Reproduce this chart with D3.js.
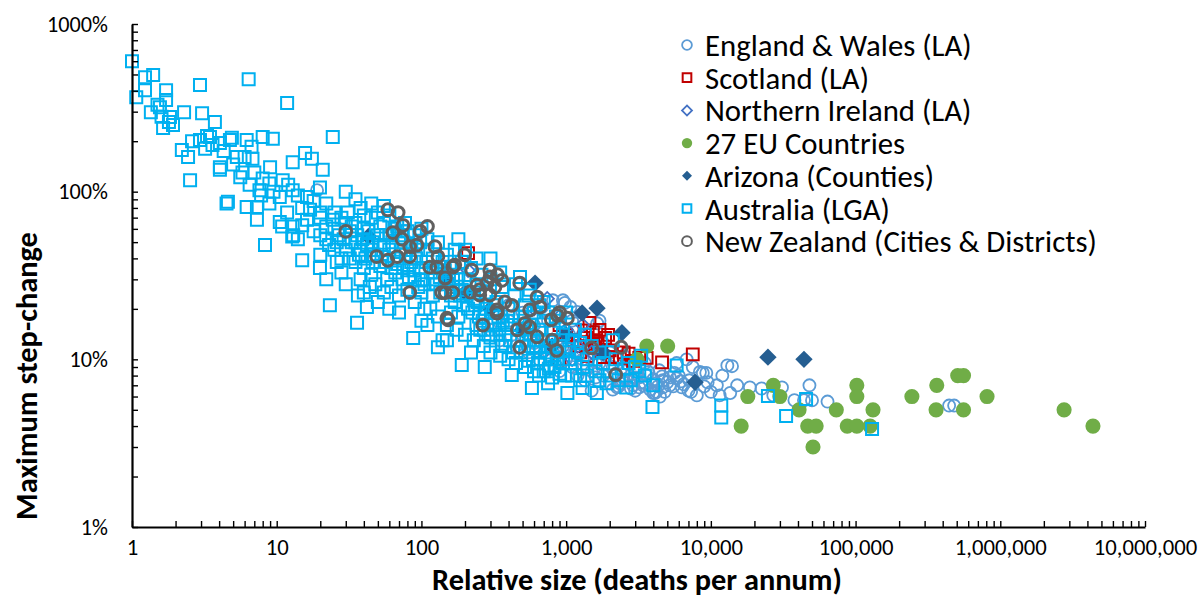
<!DOCTYPE html>
<html>
<head>
<meta charset="utf-8">
<script src="https://cdn.jsdelivr.net/npm/d3@7"></script>
<style>
  body { margin: 0; background: #fff; }
  text { font-family: Carlito, Calibri, Lato, sans-serif; }
</style>
</head>
<body>
<script>
// tick values
const xTicks = [1, 10, 100, 1000, 10000, 100000, 1000000, 10000000]
const yTicks = [1, 10, 100, 1000]

// series: [relative size (deaths per annum), max step-change in %]
const englandWales = [
  [19,102],[14000,9.1],[11000,7.0],[11500,6.1],[15200,7.0],[18600,6.8],[22400,6.7],[31000,6.8],[37800,5.7],
  [48000,7.0],[50000,5.7],[64000,5.6],[44000,5.7],[27000,6.1],[8000,6.1],[7500,9.0],[8400,8.4],[8800,8.3],
  [443000,5.3],[480000,5.3],[3000,7.8],[3400,7.0],[4100,6.3],[4650,6.8],[5800,7.7],[7100,7.5],[13000,9.2],
  [13600,6.3],[2250,6.8],[2450,7.5],[980,21.7],[810,22.5],[1190,19.2],[1640,16.4],[950,22.5],[1070,20.5],
  [680,20.5],[2100,6.6],[2350,7.2],[2900,7.5],[3200,6.8],[4200,6.4],[4650,7.5],[5200,7.8],[6300,6.8],
  [4450,6.0],[4000,6.3],[7300,6.4],[5800,9.5],[9300,8.3],[6800,10],[1700,17],[300,15],[350,13],[400,17],
  [450,12],[500,14],[550,11],[600,16],[650,10],[700,13],[750,9],[800,15],[850,11],[900,8.5],[950,12],
  [1000,10],[1050,14],[1100,9],[1150,11],[1200,8],[1250,12],[1300,10],[1350,7.5],[1400,9],[1450,13],
  [1500,8.5],[1550,11],[1600,7.8],[1700,9.5],[1800,8],[1900,10.5],[2000,7.2],[2100,9],[2200,8.2],
  [2300,6.9],[2400,8.8],[2600,7.6],[2700,9.3],[2800,6.7],[3100,8.4],[3300,7.3],[3600,8],[3800,6.6],
  [4200,7.2],[4400,8.6],[4800,6.4],[5000,7.3],[5500,6.9],[6000,8],[6500,7.1],[7000,6.5],[9500,7.3],
  [10000,6.4],[12000,8],[9000,6.9],[500,19],[1300,14],[1800,12.5],[2500,10.5],[3500,9.5],[600,12.5],
  [1100,17],[750,17],[400,21],[1000,11.8],[1600,9.6],[2000,11],[3000,6.5],[1500,6.5],[2600,8.5],
  [2900,7],[3200,7.8],[3500,7.2],[3700,8.4],[4000,7.6],[4300,6.9],[4600,7.9],[5200,7],[5600,8.3],[6200,7.4]
]

const scotland = [
  [210,43],[1340,14.9],[1380,13.4],[1450,16.5],[1530,14.5],[1580,11.8],[1800,10.3],[1860,13.4],[1950,14],
  [2000,11.3],[2080,10.3],[2200,10.3],[2350,10.2],[3200,10.2],[3600,10.2],[4600,9.6],[7500,10.7],[1200,12],
  [1100,13],[1250,11],[1650,12.5],[1700,15],[2500,11],[2700,10.8],[1000,14],[900,16],[1400,10.5],
  [1600,13],[2900,9.8],[1750,11],[900,10]
]

const northernIreland = [
  [740,23],[210,34],[1000,15],[1200,12],[900,18],[1500,11],[600,20],[1100,10],[800,13],[1300,16],[700,11]
]

const euCountries = [
  [3090,10],[3610,12],[5030,12],[16200,4],[18000,6],[27000,7],[30000,6],[40700,5],[46700,4],[53400,4],
  [50800,3],[73600,5],[87600,4],[102000,7],[102000,6],[102000,4],[126000,4],[132000,5],[245000,6],
  [364000,7],[360000,5],[508000,8],[557000,8],[557000,5],[810000,6],[2760000,5],[4370000,4]
]

const arizona = [
  [610,28.5],[1635,20.2],[1290,18.9],[2430,14.4],[7780,7.3],[24800,10.3],[44000,10.0],
  [43,54],[150,30],[300,20],[500,15],[800,12],[1000,14],[200,25],[1800,11]
]

const australia = [
  [1,600],[1.07,366],[1.23,482],[1.4,496],[1.23,403],[1.72,403],[1.72,352],[1.35,298],[1.56,319],
  [1.64,240],[1.92,250],[1.83,279],[2.29,298],[2.95,432],[6.4,469],[11.8,338],[3.05,294],[3.74,260],
  [2.21,177],[2.44,161],[2.95,203],[3.46,212],[4.05,195],[4.75,203],[6.2,203],[8.0,212],[9.4,207],
  [6.7,185],[5.3,161],[6.0,161],[6.8,157],[4.05,140],[4.05,135],[2.52,117],[4.5,85],[6.2,81],[7.3,68],
  [7.6,102],[8.9,112],[5.6,122],[12.9,150],[15.7,170],[20.8,135],[24.4,212],[17.5,157],[11,117],
  [12.9,102],[16.2,93],[19.9,106],[10.5,93],[8.9,85],[11.8,75],[12.9,62],[16.2,68],[19.9,75],[22,62],
  [24.4,68],[10.5,66],[7.3,81],[8.3,48],[4.6,87],[1.5,330],[1.6,280],[1.8,260],[2.6,200],[3.2,180],
  [3.6,190],[4.3,175],[5,145],[5.8,130],[7,130],[9,140],[8,120],[9.5,100],[3.3,215],[4.9,210],[6.5,110],
  [7.8,95],
  [12,110],[14,95],[15,80],[17,78],[18,88],[20,70],[22,85],[25,75],[25,60],[28,70],[30,65],[32,58],
  [27,55],[22,52],[18,58],[15,63],[14,52],[13,55],[10.9,62],[12.8,54],[15,39],[19.9,35],[23.3,21],
  [35.9,16.5],[42,20.5],[36.4,24],[30,100],[35,90],[38,80],[40,72],[45,70],[50,75],[55,65],[60,72],
  [65,60],[70,55],[75,50],[80,58],[90,55],[100,60],[110,52],[33,50],[38,45],[42,48],[47,42],[50,55],
  [55,48],[60,45],[65,40],[72,45],[78,42],[85,38],[95,45],[30,45],[28,40],[35,38],[40,35],[45,32],
  [52,36],[58,30],[66,33],[75,35],[82,31],[90,30],[100,35],[48,28],[55,25],[62,27],[70,24],[80,26],
  [90,22],[38,30],[44,27],[100,25],[105,20],[60,20],[70,19],[50,22],[28,33],[25,45],[20,42],[40,60],
  [45,85],[55,82],[35,65],[31,75],
  [20,55],[23,48],[26,50],[29,52],[33,62],[36,55],[39,52],[43,58],[46,50],[52,62],[57,55],[63,50],
  [68,62],[73,58],[77,65],[85,48],[92,40],[98,50],[32,40],[37,42],[41,40],[46,38],[53,42],[57,38],
  [62,35],[68,37],[74,30],[80,34],[88,34],[95,27],[102,30],[108,38],[116,33],[125,28],[134,31],[145,34],
  [155,30],[165,27],[175,30],[185,24],[195,21],[205,24],[215,27],[225,19],[235,21],[245,22],[255,15],
  [265,17],[275,19],[290,14],[310,19],[320,21],[345,15],[365,17],[390,16],[410,13],[430,18],[470,15],
  [490,11],[510,17],[530,13],[570,14],[590,10],[620,12],[640,9.5],[680,13],[710,10],[740,11],[780,12],
  [830,9],[880,10],[920,13],[980,8],[1050,11.5],[1150,9.5],[1250,12.5],[1400,8],[1700,7.5],[2300,7.5],
  [2700,9.5],[3200,8.5],[60,55],[35,50],[45,45],[52,48],[26,38],[22,30],[30,28],[40,25],[120,24],
  [160,19],[180,18],[240,16],[270,15],[150,13],[100,17],[360,12],[300,13.5],[430,11],[550,9.8],[650,8],
  [760,8.8],
  [110,45],[120,40],[130,50],[140,38],[150,42],[160,35],[170,45],[180,32],[190,38],[200,30],[220,35],
  [240,28],[260,32],[280,25],[300,30],[330,22],[360,27],[400,20],[440,24],[480,18],[520,21],[560,16],
  [600,19],[650,15],[700,17],[760,13],[820,15],[900,12],[950,14],[120,30],[135,25],[150,28],[170,22],
  [190,26],[210,20],[230,23],[250,18],[280,20],[310,16],[340,18],[380,14],[420,16],[460,13],[500,15],
  [550,12],[600,13],[660,11],[720,12],[800,10],[870,11],[950,9.5],[115,20],[130,18],[150,16],[175,15],
  [200,14],[230,13],[270,12],[300,11],[350,10.5],[400,10],[450,9.5],[520,9],[600,8.5],[700,8.5],
  [800,7.8],[900,8.2],[87.7,13.4],[130,11.8],[190,9.25],[274,9.0],[421,8.06],[580,6.74],[750,7.2],
  [250,25],[330,14],[380,12],[160,24],[140,13],[110,16],[220,11],[105,28],[125,35],[300,40],[200,45],
  [350,33],[450,28],[550,24],[650,21],[750,19],[850,18],[180,52],[240,40],[480,31],[560,26],[700,22],
  [900,17],[1000,19],
  [1020,6.3],[1300,6.74],[1630,6.3],[3950,5.2],[5800,9.2],[1100,13],[1200,11],[1300,9],[1400,10],
  [1500,12],[1600,8.5],[1800,9.5],[2000,8],[2200,10],[2500,8.8],[2800,7.5],[3000,9],[3500,8],[4000,7],
  [1100,8],[1250,7.5],[1050,10],[1150,15],[1350,14],[1700,11],[2100,13],[1900,7.2],[2600,6.8],
  [3300,10.5],[11800,5.3],[11800,4.5],[24800,6.04],[33100,4.6],[45500,5.8],[130000,3.84]
]

const newZealand = [
  [30,58],[58.6,78],[69,75],[74.5,63],[98,58],[110,62],[63.5,57],[73.5,52],[83,47],[93,48],[49,41],
  [58.6,39],[68,41],[83,41],[124,47],[130,41],[114,35.5],[128,35.5],[165,35.5],[199,42],[146,30.6],
  [138,25],[165,25],[83,25],[150,17.6],[266,16],[298,31],[253,26],[333,19.7],[223,34],[170,36.5],
  [297,34],[335,32],[284,28.5],[242,27.7],[218,25.2],[253,24.2],[297,24.2],[322,27],[360,29.6],
  [478,28.5],[377,22],[421,21],[333,18.9],[630,23.5],[660,20.5],[520,16.4],[560,15.6],[630,13.6],
  [478,11.8],[790,17.2],[870,18.3],[1020,17.6],[800,13],[860,11.3],[1500,11.7],[460,15],[153,17.2],
  [146,25],[560,19.7],[2400,11.8],[2200,8.1],[900,19]
]

const seriesNames = [
  "England & Wales (LA)", "Scotland (LA)", "Northern Ireland (LA)", "27 EU Countries",
  "Arizona (Counties)", "Australia (LGA)", "New Zealand (Cities & Districts)"
]

const series = [
  { data: englandWales, shape: d3.symbolCircle, size: 115, fill: "none", stroke: "#5B9BD5", sw: 1.8, rot: 0 },
  { data: scotland, shape: d3.symbolSquare, size: 140, fill: "none", stroke: "#C00000", sw: 2, rot: 0 },
  { data: northernIreland, shape: d3.symbolSquare, size: 90, fill: "none", stroke: "#4472C4", sw: 1.8, rot: 45 },
  { data: euCountries, shape: d3.symbolCircle, size: 180, fill: "#70AD47", stroke: "none", sw: 0, rot: 0 },
  { data: arizona, shape: d3.symbolSquare, size: 150, fill: "#255E91", stroke: "none", sw: 0, rot: 45 },
  { data: australia, shape: d3.symbolSquare, size: 144, fill: "none", stroke: "#00B0F0", sw: 2, rot: 0 },
  { data: newZealand, shape: d3.symbolCircle, size: 110, fill: "none", stroke: "#606060", sw: 3, rot: 0 }
]

const width = 1204
const height = 597
const plotLeft = 132, plotRight = 1145, plotTop = 24, plotBottom = 527

const svg = d3.select("body").append("svg").attr("width", width).attr("height", height)

const x = d3.scaleLog().domain([1, 1e7]).range([plotLeft, plotRight])
const y = d3.scaleLog().domain([1, 1000]).range([plotBottom, plotTop])

// minor + major tick positions per decade
const minor = (ticks) => ticks.slice(0, -1).flatMap(t => d3.range(1, 10).map(k => t * k)).concat([ticks[ticks.length - 1]])

// scale a text selection so that one sample string comes out at the wanted width
const fitFont = (sel, sampleNode, wanted, base) => {
  const w = sampleNode.getComputedTextLength()
  sel.attr("font-size", base * wanted / w)
}

// points
series.forEach((s, i) => {
  svg.append("g")
    .selectAll("path")
    .data(s.data)
    .enter()
    .append("path")
    .attr("d", d3.symbol().type(s.shape).size(s.size))
    .attr("transform", d => "translate(" + x(d[0]) + "," + y(d[1]) + ") rotate(" + s.rot + ")")
    .attr("fill", s.fill)
    .attr("stroke", s.stroke)
    .attr("stroke-width", s.sw)
})

// x axis
const xAxis = svg.append("g")
  .attr("transform", "translate(0," + plotBottom + ")")
  .call(d3.axisBottom(x)
    .tickValues(minor(xTicks))
    .tickSizeInner(-6)
    .tickSizeOuter(0)
    .tickPadding(12)
    .tickFormat(d3.format(",")))
xAxis.select(".domain").attr("stroke", "#000").attr("stroke-width", 2.2)
xAxis.selectAll(".tick line").attr("stroke", "#000").attr("stroke-width", 1.4)
// minor ticks carry no label
xAxis.selectAll(".tick text").filter(d => !xTicks.includes(d)).remove()
const xLabels = xAxis.selectAll(".tick text").attr("font-size", 20).attr("fill", "#000")
fitFont(xLabels, xLabels.filter(d => d === 1000000).node(), 92, 20)

// y axis
const yAxis = svg.append("g")
  .attr("transform", "translate(" + plotLeft + ",0)")
  .call(d3.axisLeft(y)
    .tickValues(minor(yTicks))
    .tickSizeInner(-6)
    .tickSizeOuter(0)
    .tickPadding(24)
    .tickFormat(d => d + "%"))
yAxis.select(".domain").attr("stroke", "#000").attr("stroke-width", 2.2)
yAxis.selectAll(".tick line").attr("stroke", "#000").attr("stroke-width", 1.4)
yAxis.selectAll(".tick text").filter(d => !yTicks.includes(d)).remove()
const yLabels = yAxis.selectAll(".tick text").attr("font-size", 20).attr("fill", "#000")
fitFont(yLabels, yLabels.filter(d => d === 1000).node(), 61, 20)

// axis titles
const xTitle = svg.append("text")
  .attr("x", 637)
  .attr("y", 590)
  .attr("text-anchor", "middle")
  .attr("font-size", 25)
  .attr("font-weight", "bold")
  .text("Relative size (deaths per annum)")
fitFont(xTitle, xTitle.node(), 410, 25)

const yTitle = svg.append("text")
  .attr("transform", "translate(37,376) rotate(-90)")
  .attr("text-anchor", "middle")
  .attr("font-size", 25)
  .attr("font-weight", "bold")
  .text("Maximum step-change")
fitFont(yTitle, yTitle.node(), 288, 25)

// legend
const legend = svg.append("g")
series.forEach((s, i) => {
  const ly = 45 + i * 32.7
  legend.append("path")
    .attr("d", d3.symbol().type(s.shape).size(s.rot ? 50 : (s.fill !== "none" ? 85 : 75)))
    .attr("transform", "translate(687," + ly + ") rotate(" + s.rot + ")")
    .attr("fill", s.fill)
    .attr("stroke", s.stroke)
    .attr("stroke-width", Math.min(s.sw, 2))
  legend.append("text")
    .attr("x", 705)
    .attr("y", ly)
    .attr("dy", "0.36em")
    .attr("font-size", 24)
    .text(seriesNames[i])
})
const legendText = legend.selectAll("text")
fitFont(legendText, legendText.filter((d, i) => i === 6).node(), 392, 24)
</script>
</body>
</html>
